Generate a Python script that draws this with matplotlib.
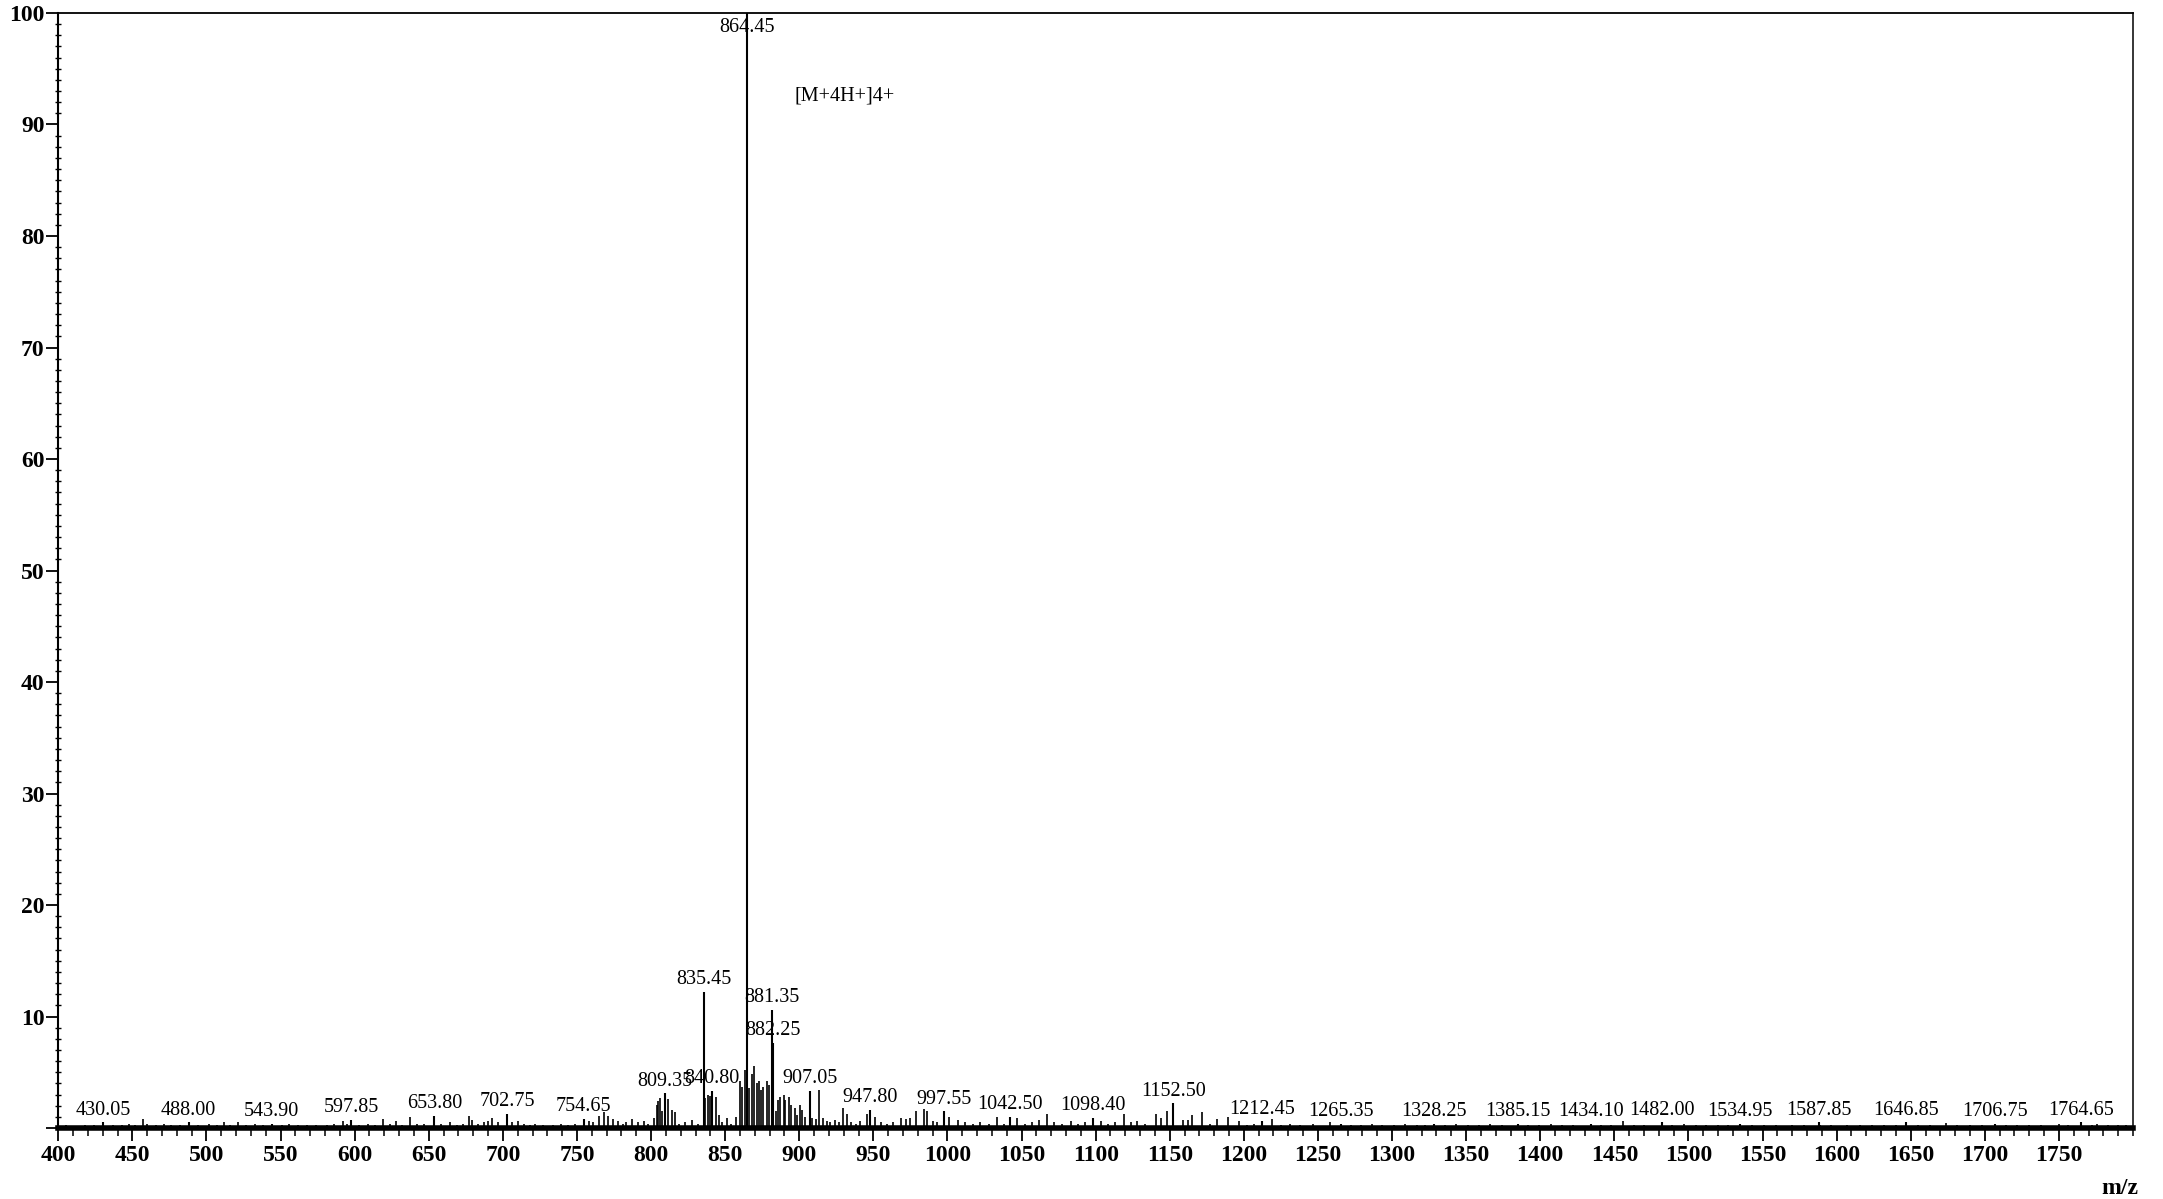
import numpy as np
import matplotlib
matplotlib.use('Agg')
import matplotlib.pyplot as plt

plt.rcParams['font.family'] = ['Liberation Serif', 'DejaVu Serif']

#Labelled peaks (m/z, relative intensity %)
label_mz = [430.05, 488.00, 543.90, 597.85, 653.80, 702.75, 754.65, 809.35, 835.45, 840.80,
            864.45, 881.35, 882.25, 907.05, 947.80, 997.55, 1042.50, 1098.40, 1152.50, 1212.45,
            1265.35, 1328.25, 1385.15, 1434.10, 1482.00, 1534.95, 1587.85, 1646.85, 1706.75, 1764.65]
label_int = [0.5, 0.5, 0.4, 0.7, 1.1, 1.3, 0.8, 3.1, 12.2, 3.3,
             100.0, 10.6, 7.6, 3.3, 1.6, 1.5, 1.0, 0.9, 2.2, 0.6,
             0.4, 0.4, 0.4, 0.4, 0.5, 0.4, 0.5, 0.5, 0.4, 0.5]

#Unlabelled peaks
minor_mz = [405, 412, 418, 424, 437, 443, 448, 452, 457, 460, 466, 471, 476, 482, 494, 502, 507, 512, 516, 521,
            527, 533, 538, 551, 556, 562, 568, 574, 581, 586, 592, 595, 603, 609, 614, 619, 624, 628, 632, 637,
            642, 647, 658, 664, 669, 673, 677, 679, 683, 687, 690, 693, 697, 706, 710, 714, 718, 722, 727, 734,
            739, 744, 749, 758, 761, 765, 768, 771, 774, 778, 781, 783, 787, 791, 795, 798,
            801.8, 803.9, 805.0, 806.1, 807.3, 809.1, 811.4, 814.0, 815.9, 819, 823, 827.3, 831.8, 836.6, 838.2,
            839.6, 843.5, 846, 848, 851.4, 854, 857, 859.8, 861.6, 863.5, 866.2, 867.8, 869.6, 871.2, 872.5,
            874.1, 875.7, 878, 879.4, 884, 885.5, 887.1, 889.4, 890.7, 892.8, 894.6, 896.9, 898.5, 900.3, 902.1,
            904, 908.9, 911, 913.5, 916.2, 919, 921, 924.1, 927,
            929.5, 932, 935, 938, 941, 945.7, 951, 955, 959, 963, 968.7, 971.8, 975, 979, 984, 986.5, 990, 993,
            1001, 1007, 1012, 1017, 1022, 1028, 1033.7, 1038, 1047, 1052, 1057, 1062, 1067, 1072, 1077, 1083.7,
            1088, 1093, 1103.7, 1108, 1113, 1119, 1124, 1128, 1133, 1140.9, 1144.3, 1148, 1159.1, 1162, 1164.8,
            1172, 1177, 1181.8, 1189.6, 1197, 1202.3, 1207, 1219.3, 1225, 1231, 1238, 1246.6,
            1258, 1272, 1279, 1286.4, 1293, 1301, 1309, 1317, 1322, 1336, 1343, 1351, 1359, 1366, 1374, 1392,
            1399, 1407, 1415, 1422, 1441, 1448, 1456, 1463, 1470, 1489, 1497, 1505, 1512, 1520, 1527, 1543,
            1551, 1559, 1570, 1578, 1589, 1596, 1607, 1616, 1624, 1632, 1640, 1655, 1663, 1673.6, 1681, 1690,
            1698, 1714, 1722, 1730, 1738, 1750, 1756, 1772, 1776, 1783, 1790, 1795]
minor_int = [0.3, 0.2, 0.3, 0.25, 0.3, 0.25, 0.4, 0.3, 0.8, 0.4, 0.3, 0.35, 0.3, 0.25, 0.3, 0.4, 0.3, 0.5, 0.3, 0.5,
             0.3, 0.35, 0.3, 0.3, 0.35, 0.3, 0.3, 0.25, 0.3, 0.35, 0.6, 0.4, 0.3, 0.35, 0.3, 0.8, 0.4, 0.6, 0.3, 1.0,
             0.4, 0.35, 0.4, 0.5, 0.3, 0.35, 1.1, 0.7, 0.4, 0.5, 0.6, 0.9, 0.5, 0.5, 0.6, 0.4, 0.3, 0.4, 0.3, 0.3,
             0.35, 0.3, 0.4, 0.6, 0.5, 1.1, 1.4, 1.1, 0.8, 0.6, 0.4, 0.5, 0.8, 0.5, 0.6, 0.4,
             0.9, 2.1, 2.4, 2.7, 1.5, 1.9, 2.6, 1.6, 1.4, 0.4, 0.5, 0.7, 0.4, 2.7, 3.0,
             2.9, 2.8, 1.2, 0.5, 0.9, 0.4, 1.0, 4.2, 3.7, 5.2, 3.6, 4.8, 5.6, 4.0, 4.2,
             3.4, 3.7, 4.2, 3.9, 1.5, 2.5, 2.8, 3.0, 2.5, 2.8, 2.1, 1.8, 1.2, 2.1, 1.6,
             1.0, 0.9, 0.8, 3.4, 0.9, 0.6, 0.5, 0.7, 0.5,
             1.8, 1.3, 0.5, 0.4, 0.6, 1.3, 1.0, 0.5, 0.4, 0.5, 0.9, 0.8, 0.9, 1.5, 1.7, 1.5, 0.6, 0.5,
             1.0, 0.7, 0.5, 0.4, 0.5, 0.4, 1.0, 0.4, 0.9, 0.4, 0.5, 0.7, 1.3, 0.5, 0.4, 0.6,
             0.4, 0.5, 0.6, 0.4, 0.5, 1.3, 0.5, 0.6, 0.4, 1.3, 0.9, 1.5, 0.7, 0.7, 1.2,
             1.4, 0.4, 0.8, 0.95, 0.6, 0.3, 0.4, 0.8, 0.3, 0.35, 0.3, 0.4,
             0.5, 0.3, 0.3, 0.4, 0.3, 0.3, 0.35, 0.3, 0.3, 0.3, 0.35, 0.3, 0.3, 0.35, 0.3, 0.3,
             0.3, 0.35, 0.3, 0.3, 0.3, 0.3, 0.6, 0.3, 0.3, 0.3, 0.35, 0.3, 0.3, 0.3, 0.3, 0.3,
             0.3, 0.3, 0.3, 0.3, 0.3, 0.3, 0.25, 0.3, 0.3, 0.3, 0.3, 0.3, 0.3, 0.45, 0.3, 0.3,
             0.3, 0.3, 0.3, 0.3, 0.3, 0.4, 0.3, 0.3, 0.4, 0.3, 0.3, 0.3]

ion_label = '[M+4H+]4+'
ion_pos = (897, 92.6)

x_ticks = list(range(400, 1751, 50))
y_ticks = list(range(0, 101, 10))

fig = plt.figure(figsize=(21.63, 11.99), dpi=100)
ax = fig.add_axes([0.02695, 0.0592, 0.95918, 0.92996])

#Peaks
ax.vlines(minor_mz, 0, minor_int, color='black', lw=1.2)
ax.vlines(label_mz, 0, label_int, color='black', lw=1.5)

#Peak labels, clamped under the top frame
for mz, inten in zip(label_mz, label_int):
    ypos = min(inten, 97.6)
    ax.annotate('%.2f' % mz, (mz, ypos), xytext=(0, 2), textcoords='offset points',
                ha='center', va='bottom', fontsize=14.5)

ax.text(ion_pos[0], ion_pos[1], ion_label, ha='left', va='center', fontsize=14.5)

#Axes limits and ticks
ax.set_xlim(400, 1800)
ax.set_ylim(0, 100)
ax.set_xticks(x_ticks)
ax.set_xticks(np.arange(400, 1801, 10), minor=True)
ax.set_yticks(y_ticks)
ax.set_yticklabels([''] + [str(v) for v in y_ticks[1:]])
ax.set_yticks(np.arange(0, 101, 1), minor=True)

for lab in ax.get_xticklabels() + ax.get_yticklabels():
    lab.set_fontweight('bold')
    lab.set_fontsize(17)

ax.tick_params(axis='x', which='major', direction='out', length=9, width=1.3, pad=3)
ax.tick_params(axis='x', which='minor', direction='out', length=6, width=1.1)
ax.tick_params(axis='y', which='major', direction='out', length=9, width=1.3, pad=1)
ax.tick_params(axis='y', which='minor', direction='inout', length=5, width=1.0)

#Frame: thick noisy baseline at the bottom
ax.spines['bottom'].set_linewidth(4.0)
ax.spines['left'].set_linewidth(1.5)
ax.spines['top'].set_linewidth(1.3)
ax.spines['right'].set_linewidth(1.1)

fig.text(2120 / 2163, 1 - 1188 / 1199, 'm/z', ha='center', va='center', fontsize=17, fontweight='bold')

fig.savefig('out.png', dpi=100)
